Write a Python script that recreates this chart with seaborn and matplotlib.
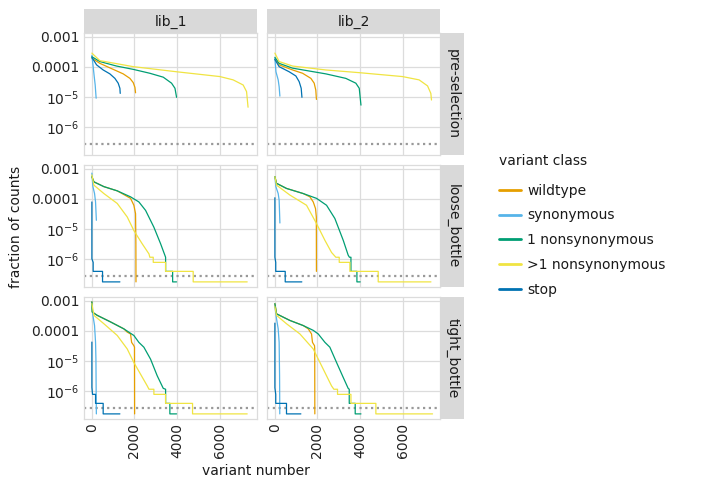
import numpy as np
import pandas as pd
import matplotlib
matplotlib.use("Agg")
import matplotlib.pyplot as plt
from matplotlib.lines import Line2D
from matplotlib.patches import Rectangle
import seaborn as sns

# ---------------- categories ----------------
samples = ["pre-selection", "loose_bottle", "tight_bottle"]
libraries = ["lib_1", "lib_2"]
classes = ["wildtype", "synonymous", "1 nonsynonymous", ">1 nonsynonymous", "stop"]
class_colors = ["#E69F00", "#56B4E9", "#009E73", "#F0E442", "#0072B2"]

x_ticks = [0, 2000, 4000, 6000]
x_tick_labels = ["0", "2000", "4000", "6000"]
y_ticks = [1e-3, 1e-4, 1e-5, 1e-6]
y_tick_labels = ["0.001", "0.0001", r"$10^{-5}$", r"$10^{-6}$"]
count_threshold = 2.6e-7   # dotted reference line

# ---------------- series (x = variant number, y = log10 fraction of counts) ----------------
# pre-selection, lib_1
pre1_wt_x = [0, 375, 1000, 1470, 1785, 1940, 2020, 2050]
pre1_wt_y = [-3.72, -3.89, -4.09, -4.24, -4.39, -4.53, -4.69, -4.87]
pre1_syn_x = [0, 60, 110, 155, 200]
pre1_syn_y = [-3.62, -4.00, -4.33, -4.61, -5.05]
pre1_ns1_x = [0, 375, 1160, 1940, 2720, 3350, 3740, 3900, 3975]
pre1_ns1_y = [-3.67, -3.83, -3.98, -4.09, -4.22, -4.35, -4.55, -4.72, -5.02]
pre1_nsm_x = [0, 375, 1940, 3975, 6010, 6630, 7100, 7260, 7330]
pre1_nsm_y = [-3.55, -3.80, -4.00, -4.17, -4.33, -4.44, -4.61, -4.83, -5.35]
pre1_stop_x = [0, 220, 530, 845, 1080, 1235, 1315, 1330]
pre1_stop_y = [-3.69, -3.94, -4.11, -4.24, -4.39, -4.55, -4.72, -4.89]

# pre-selection, lib_2
pre2_wt_x = [0, 200, 830, 1300, 1690, 1845, 1920, 1950]
pre2_wt_y = [-3.76, -3.94, -4.11, -4.22, -4.39, -4.55, -4.78, -5.09]
pre2_syn_x = [0, 50, 155, 200, 235]
pre2_syn_y = [-3.72, -4.17, -4.44, -4.67, -4.98]
pre2_ns1_x = [0, 200, 830, 2390, 3330, 3800, 3960, 4040]
pre2_ns1_y = [-3.69, -3.89, -4.05, -4.24, -4.39, -4.55, -4.72, -5.28]
pre2_nsm_x = [0, 200, 830, 2390, 3960, 5990, 6770, 7165, 7320, 7350]
pre2_nsm_y = [-3.55, -3.83, -3.98, -4.11, -4.20, -4.33, -4.44, -4.64, -4.89, -5.11]
pre2_stop_x = [0, 200, 670, 985, 1140, 1235, 1270]
pre2_stop_y = [-3.76, -4.00, -4.17, -4.31, -4.50, -4.72, -5.02]

# loose_bottle, lib_1
loose1_wt_x = [0, 94, 563, 1190, 1815, 1970, 2050, 2065, 2070]
loose1_wt_y = [-3.27, -3.44, -3.60, -3.74, -3.99, -4.22, -4.50, -5.50, -6.77]
loose1_syn_x = [0, 47, 125, 172, 210]
loose1_syn_y = [-3.15, -3.60, -3.83, -4.11, -4.72]
loose1_ns1_x = [0, 94, 563, 1190, 1815, 2207, 2520, 2910, 3225, 3460, 3460, 3790, 3790, 3975]
loose1_ns1_y = [-3.27, -3.44, -3.60, -3.74, -3.94, -4.11, -4.39, -4.95, -5.50, -5.95, -6.42, -6.42, -6.77, -6.77]
loose1_nsm_x = [0, 94, 563, 1190, 1660, 1970, 2360, 2680, 2720, 2880, 2880, 3460, 3460, 4755, 4755, 7290]
loose1_nsm_y = [-3.21, -3.55, -3.83, -4.16, -4.61, -5.06, -5.50, -5.84, -5.95, -5.95, -6.12, -6.12, -6.42, -6.42, -6.77, -6.77]
loose1_stop_x = [0, 0, 60, 60, 500, 500, 1315]
loose1_stop_y = [-4.11, -6.00, -6.12, -6.42, -6.42, -6.77, -6.77]

# loose_bottle, lib_2
loose2_wt_x = [0, 77, 545, 1330, 1645, 1800, 1907, 1945, 1950]
loose2_wt_y = [-3.27, -3.49, -3.66, -3.83, -3.94, -4.11, -4.33, -4.61, -6.42]
loose2_syn_x = [0, 47, 155, 200, 235]
loose2_syn_y = [-3.27, -3.60, -3.83, -4.05, -4.81]
loose2_ns1_x = [0, 77, 545, 1330, 1955, 2425, 2815, 3210, 3440, 3500, 3570, 3570, 3850, 3850, 4005]
loose2_ns1_y = [-3.27, -3.49, -3.66, -3.83, -3.99, -4.22, -4.66, -5.39, -5.88, -5.95, -5.95, -6.42, -6.42, -6.77, -6.77]
loose2_nsm_x = [0, 77, 704, 1485, 1955, 2350, 2660, 2860, 3020, 3020, 3520, 3520, 4850, 4850, 7325]
loose2_nsm_y = [-3.27, -3.55, -3.88, -4.22, -4.83, -5.39, -5.79, -5.95, -5.95, -6.12, -6.12, -6.42, -6.42, -6.77, -6.77]
loose2_stop_x = [0, 0, 40, 40, 485, 485, 1265]
loose2_stop_y = [-3.97, -5.95, -6.12, -6.42, -6.42, -6.77, -6.77]

# tight_bottle, lib_1
tight1_wt_x = [0, 16, 250, 877, 1500, 1660, 1815, 1865, 1970, 2000, 2005]
tight1_wt_y = [-3.04, -3.38, -3.49, -3.71, -3.94, -4.05, -4.11, -4.39, -4.50, -4.55, -6.77]
tight1_syn_x = [0, 47, 125, 172, 190, 200, 210]
tight1_syn_y = [-3.10, -3.49, -3.83, -4.39, -4.95, -5.95, -6.77]
tight1_ns1_x = [0, 16, 250, 877, 1500, 1970, 2205, 2440, 2755, 3065, 3350, 3460, 3460, 3660, 3660, 3975]
tight1_ns1_y = [-3.04, -3.38, -3.49, -3.71, -3.94, -4.16, -4.39, -4.55, -4.95, -5.50, -5.92, -5.95, -6.42, -6.42, -6.77, -6.77]
tight1_nsm_x = [0, 94, 563, 1190, 1660, 1970, 2285, 2600, 2680, 2910, 2910, 3460, 3460, 4725, 4725, 7290]
tight1_nsm_y = [-3.10, -3.49, -3.77, -4.16, -4.61, -5.06, -5.45, -5.84, -5.95, -5.95, -6.12, -6.12, -6.42, -6.42, -6.77, -6.77]
tight1_stop_x = [0, 0, 30, 172, 172, 530, 530, 1315]
tight1_stop_y = [-4.38, -5.89, -6.12, -6.12, -6.42, -6.42, -6.77, -6.77]

# tight_bottle, lib_2
tight2_wt_x = [0, 77, 704, 1330, 1565, 1720, 1765, 1860, 1870, 1875]
tight2_wt_y = [-3.10, -3.44, -3.66, -3.83, -3.94, -4.11, -4.39, -4.50, -4.60, -6.77]
tight2_syn_x = [0, 77, 155, 200, 220, 230]
tight2_syn_y = [-3.20, -3.60, -3.94, -4.39, -5.50, -6.77]
tight2_ns1_x = [0, 77, 704, 1330, 1800, 2035, 2350, 2580, 2895, 3210, 3440, 3490, 3490, 3770, 3770, 4040]
tight2_ns1_y = [-3.10, -3.44, -3.66, -3.83, -3.99, -4.11, -4.39, -4.55, -5.06, -5.56, -5.92, -5.95, -6.42, -6.42, -6.77, -6.77]
tight2_nsm_x = [0, 77, 545, 1175, 1800, 2270, 2660, 2770, 2940, 2940, 3570, 3570, 4740, 4740, 7400]
tight2_nsm_y = [-3.20, -3.49, -3.77, -4.11, -4.61, -5.28, -5.84, -5.95, -5.95, -6.12, -6.12, -6.42, -6.42, -6.77, -6.77]
tight2_stop_x = [0, 0, 40, 40, 545, 545, 1220]
tight2_stop_y = [-3.75, -5.90, -6.12, -6.42, -6.42, -6.77, -6.77]

series = [
    ("pre-selection", "lib_1", pre1_wt_x, pre1_wt_y, pre1_syn_x, pre1_syn_y, pre1_ns1_x, pre1_ns1_y,
     pre1_nsm_x, pre1_nsm_y, pre1_stop_x, pre1_stop_y),
    ("pre-selection", "lib_2", pre2_wt_x, pre2_wt_y, pre2_syn_x, pre2_syn_y, pre2_ns1_x, pre2_ns1_y,
     pre2_nsm_x, pre2_nsm_y, pre2_stop_x, pre2_stop_y),
    ("loose_bottle", "lib_1", loose1_wt_x, loose1_wt_y, loose1_syn_x, loose1_syn_y, loose1_ns1_x, loose1_ns1_y,
     loose1_nsm_x, loose1_nsm_y, loose1_stop_x, loose1_stop_y),
    ("loose_bottle", "lib_2", loose2_wt_x, loose2_wt_y, loose2_syn_x, loose2_syn_y, loose2_ns1_x, loose2_ns1_y,
     loose2_nsm_x, loose2_nsm_y, loose2_stop_x, loose2_stop_y),
    ("tight_bottle", "lib_1", tight1_wt_x, tight1_wt_y, tight1_syn_x, tight1_syn_y, tight1_ns1_x, tight1_ns1_y,
     tight1_nsm_x, tight1_nsm_y, tight1_stop_x, tight1_stop_y),
    ("tight_bottle", "lib_2", tight2_wt_x, tight2_wt_y, tight2_syn_x, tight2_syn_y, tight2_ns1_x, tight2_ns1_y,
     tight2_nsm_x, tight2_nsm_y, tight2_stop_x, tight2_stop_y),
]

rows = []
for entry in series:
    samp, lib = entry[0], entry[1]
    pairs = entry[2:]
    for ci, cls in enumerate(classes):
        xs, ys = pairs[2 * ci], pairs[2 * ci + 1]
        for xv, yv in zip(xs, ys):
            rows.append({"sample": samp, "library": lib, "variant class": cls,
                         "variant number": xv, "fraction of counts": 10.0 ** yv})
df = pd.DataFrame(rows)

# ---------------- figure layout (pixel based) ----------------
W, H = 702, 488
sns.set_style("white")
plt.rcParams["font.family"] = ["DejaVu Sans"]
fig = plt.figure(figsize=(W / 100, H / 100), dpi=100)

def fig_rect(x0, y0, x1, y1):
    return [x0 / W, 1 - y1 / H, (x1 - x0) / W, (y1 - y0) / H]

col_x = [(84, 257), (267, 440)]
row_y = [(33, 155), (165, 287), (297, 419)]
grid_col = "#dcdcdc"
strip_col = "#d9d9d9"
FS = 10

for ri, samp in enumerate(samples):
    for cj, lib in enumerate(libraries):
        x0, x1 = col_x[cj]
        y0, y1 = row_y[ri]
        ax = fig.add_axes(fig_rect(x0, y0, x1, y1))
        sub = df[(df["sample"] == samp) & (df["library"] == lib)]
        ax.axhline(count_threshold, color="#999999", lw=1.6, ls=(0, (1, 1.6)), zorder=1)
        sns.lineplot(data=sub, x="variant number", y="fraction of counts",
                     hue="variant class", hue_order=classes, palette=class_colors,
                     estimator=None, sort=False, legend=False, lw=0.9, ax=ax, zorder=3)
        ax.set_yscale("log")
        ax.set_ylim(10 ** -6.94, 10 ** -2.88)
        ax.set_xlim(-370, 7750)
        ax.set_xticks(x_ticks)
        ax.set_yticks(y_ticks)
        ax.minorticks_off()
        ax.grid(True, color=grid_col, lw=0.9, zorder=0)
        ax.set_axisbelow(True)
        for sp in ax.spines.values():
            sp.set_visible(True)
            sp.set_color(grid_col)
            sp.set_linewidth(0.9)
        ax.tick_params(length=0, labelsize=FS, colors="#222222", pad=3)
        ax.set_xlabel("")
        ax.set_ylabel("")
        if cj == 0:
            ax.set_yticklabels(y_tick_labels)
        else:
            ax.set_yticklabels([])
        if ri == 2:
            ax.set_xticklabels(x_tick_labels, rotation=90)
        else:
            ax.set_xticklabels([])

        # top strips
        if ri == 0:
            fig.patches.append(Rectangle((x0 / W, 1 - 33 / H), (x1 - x0) / W, 24 / H,
                                         transform=fig.transFigure, facecolor=strip_col,
                                         edgecolor="none", zorder=0))
            fig.text((x0 + x1) / 2 / W, 1 - 21.5 / H, lib, ha="center", va="center",
                     fontsize=FS, color="#1a1a1a")
        # right strips
        if cj == 1:
            fig.patches.append(Rectangle((440 / W, 1 - y1 / H), 24 / W, (y1 - y0) / H,
                                         transform=fig.transFigure, facecolor=strip_col,
                                         edgecolor="none", zorder=0))
            fig.text(452.5 / W, 1 - (y0 + y1) / 2 / H, samp, ha="center", va="center",
                     rotation=-90, fontsize=FS, color="#1a1a1a")

fig.text(16 / W, 1 - 227 / H, "fraction of counts", rotation=90, ha="center", va="center",
         fontsize=FS, color="#1a1a1a")
fig.text(256 / W, 1 - 471 / H, "variant number", ha="center", va="center",
         fontsize=FS, color="#1a1a1a")

handles = [Line2D([0], [0], color=c, lw=2) for c in class_colors]
leg = fig.legend(handles, classes, title="variant class", loc="upper left",
                 bbox_to_anchor=(493 / W, 1 - 148 / H), frameon=False, fontsize=FS,
                 title_fontsize=FS, handlelength=1.6, handletextpad=0.45,
                 labelspacing=0.78, borderaxespad=0)
leg._legend_box.align = "left"
leg._legend_box.sep = 0.78 * FS + 3.8
for t in leg.get_texts():
    t.set_color("#1a1a1a")
leg.get_title().set_color("#1a1a1a")

fig.savefig("out.png", dpi=100)
